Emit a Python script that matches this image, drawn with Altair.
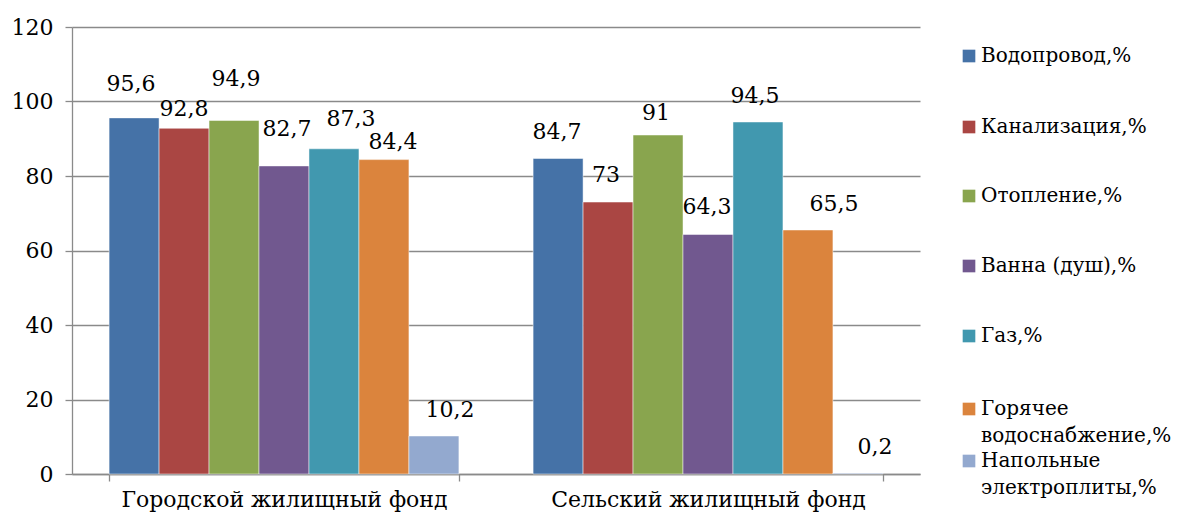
import altair as alt
import pandas as pd

# Housing stock groups and amenity series
groups = ["Городской жилищный фонд", "Сельский жилищный фонд"]
series = [
    "Водопровод,%",
    "Канализация,%",
    "Отопление,%",
    "Ванна (душ),%",
    "Газ,%",
    "Горячее водоснабжение,%",
    "Напольные электроплиты,%",
]
urban = [95.6, 92.8, 94.9, 82.7, 87.3, 84.4, 10.2]
rural = [84.7, 73, 91, 64.3, 94.5, 65.5, 0.2]

colors = ["#4572A7", "#AA4643", "#89A54E", "#71588F", "#4198AF", "#DB843D", "#93A9CF"]

# Hand-placed nudges (px) for the value labels, relative to each bar top
label_dx = [-3, 0, 2, 3, 17, 9, 16, -1, -2, -2, -1, -3, 26, 17]
label_dy = [-34, -19, -41, -37, -30, -18, -26, -26, -27, -22, -27, -26, -26, -26]

# Legend entries, split into display lines
legend_lines = [
    ["Водопровод,%"],
    ["Канализация,%"],
    ["Отопление,%"],
    ["Ванна (душ),%"],
    ["Газ,%"],
    ["Горячее", "водоснабжение,%"],
    ["Напольные", "электроплиты,%"],
]
legend_y = [29, 100, 169, 239, 309, 382, 434]

FONT = "DejaVu Serif"
FS = 22
LEG_FS = 20
LEG_LINE = 27
GRID = "#8a8a8a"

def fmt(v):
    s = f"{v:g}"
    return s.replace(".", ",")

rows = []
for g, vals in zip(groups, [urban, rural]):
    for s, v in zip(series, vals):
        rows.append({"group": g, "series": s, "value": v, "label": fmt(v)})
df = pd.DataFrame(rows)
df["idx"] = range(len(df))

W, H = 848, 447

x_enc = alt.X(
    "group:N",
    sort=groups,
    scale=alt.Scale(domain=groups, paddingInner=0.175, paddingOuter=0.0875),
    axis=alt.Axis(
        title=None, labelAngle=0, tickBand="extent", tickSize=7, tickColor=GRID,
        tickWidth=1.3, domainColor=GRID, domainWidth=1.3, labelFont=FONT,
        labelFontSize=FS, labelColor="black", labelPadding=8, labelLimit=0,
        grid=False,
    ),
)
xo_enc = alt.XOffset(
    "series:N", sort=series,
    scale=alt.Scale(domain=series, paddingInner=0, paddingOuter=0),
)
y_enc = alt.Y(
    "value:Q",
    scale=alt.Scale(domain=[0, 120], nice=False),
    axis=alt.Axis(
        title=None, values=[0, 20, 40, 60, 80, 100, 120], grid=True,
        gridColor=GRID, gridWidth=1.3, domainColor=GRID, domainWidth=1.3,
        tickColor=GRID, tickWidth=1.3, tickSize=7, labelFont=FONT,
        labelFontSize=FS, labelColor="black", labelPadding=12,
    ),
)

base = alt.Chart(df)

bars = base.mark_bar(stroke="white", strokeWidth=0.8, strokeOpacity=0.6).encode(
    x=x_enc,
    xOffset=xo_enc,
    y=y_enc,
    color=alt.Color("series:N", scale=alt.Scale(domain=series, range=colors), legend=None),
)

layers = [bars]

# Value labels above the bars
for i in range(len(df)):
    layers.append(
        base.transform_filter(f"datum.idx == {i}")
        .mark_text(font=FONT, fontSize=FS, color="black", align="center",
                   baseline="middle", dx=label_dx[i], dy=label_dy[i])
        .encode(x=x_enc, xOffset=xo_enc, y=y_enc, text="label:N")
    )

# Legend to the right of the plot
one = pd.DataFrame({"k": [0]})
for lines, col, ly in zip(legend_lines, colors, legend_y):
    layers.append(
        alt.Chart(one).mark_square(size=160, color=col, opacity=1)
        .encode(x=alt.value(897), y=alt.value(ly))
    )
    for j, line in enumerate(lines):
        layers.append(
            alt.Chart(one).mark_text(font=FONT, fontSize=LEG_FS, color="black",
                                     align="left", baseline="middle", text=line)
            .encode(x=alt.value(909), y=alt.value(ly + LEG_LINE * j))
        )

chart = (
    alt.layer(*layers)
    .properties(
        width=W, height=H,
        padding={"left": 72, "top": 27, "right": 1185 - 72 - W, "bottom": 519 - 27 - H},
        autosize=alt.AutoSizeParams(type="none"),
        background="white",
    )
    .configure_view(strokeWidth=0)
)

chart.save("out.html", embed_options={"renderer": "svg", "actions": False})
